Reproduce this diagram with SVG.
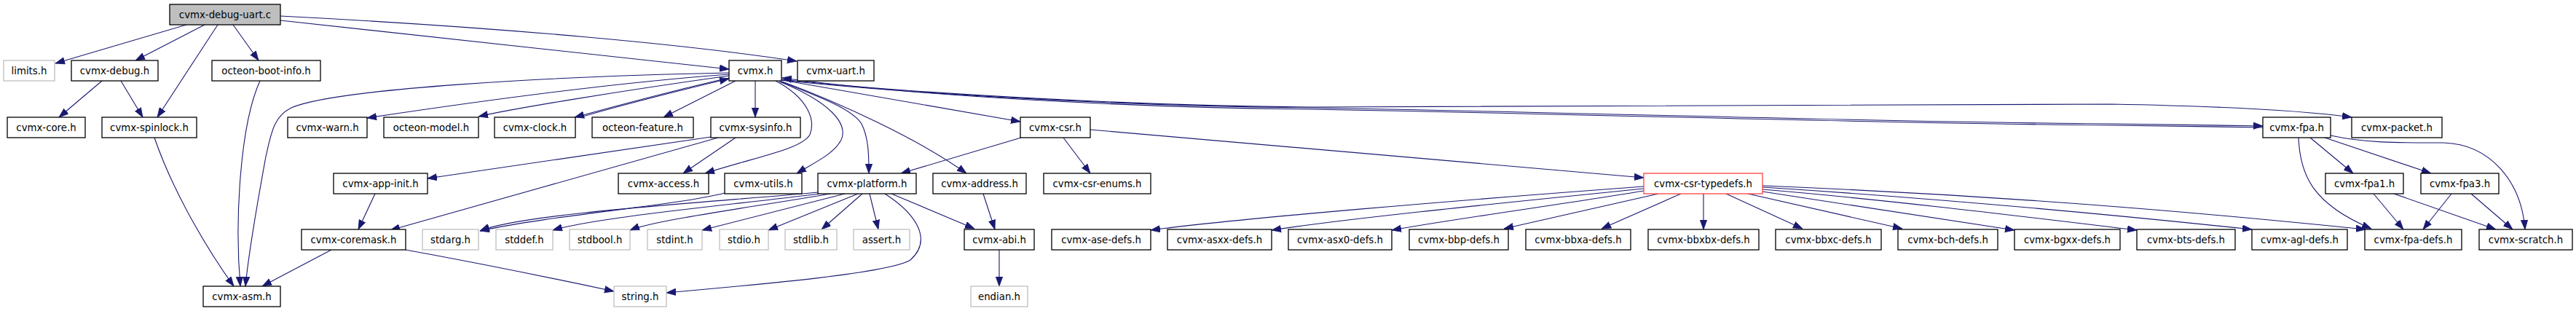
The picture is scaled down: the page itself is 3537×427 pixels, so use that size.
<svg xmlns="http://www.w3.org/2000/svg" width="3537" height="427" viewBox="0 0 3537 427">
<style>
.n rect{fill:#ffffff;stroke:#000000;stroke-width:1.3}
.n.g rect{stroke:#bfbfbf}
.n.r rect{stroke:#ff4040}
.n.m rect{fill:#bfbfbf}
.n text{font-family:"DejaVu Sans","Liberation Sans",sans-serif;font-size:13.3px;fill:#000000;text-anchor:middle}
#edges path{fill:none;stroke:#191970;stroke-width:1.1;marker-end:url(#ah)}
</style>
<defs>
<marker id="ah" markerUnits="userSpaceOnUse" markerWidth="14" markerHeight="11" refX="13" refY="5" orient="auto">
<path d="M0,0.3 L13,5 L0,9.7 z" fill="#191970" stroke="#191970" stroke-width="0.8"/>
</marker>
</defs>
<rect x="0" y="0" width="3537" height="427" fill="#ffffff"/>
<g id="edges">
<path d="M256,34 L76,87"/>
<path d="M281,34 L186,83"/>
<path d="M299,34 L216,161"/>
<path d="M320,34 L355,83"/>
<path d="M385,28 L1001,95"/>
<path d="M385,22 C700,38 950,62 1094,84"/>
<path d="M140,111 L81,161"/>
<path d="M166,111 L196,161"/>
<path d="M212,189 C240,270 290,350 321,393"/>
<path d="M357,111 C330,170 322,300 330,393"/>
<path d="M1001,100 C750,105 460,122 400,148 C375,160 372,185 365,215 C355,270 342,340 337,393"/>
<path d="M1001,102 C850,113 650,140 504,162"/>
<path d="M1001,104 C850,125 700,150 657,160"/>
<path d="M1001,107 C920,125 830,150 789,161"/>
<path d="M797,161 C850,145 950,120 1001,108"/>
<path d="M1010,111 L911,161"/>
<path d="M1037,111 L1037,161"/>
<path d="M1065,111 C1110,135 1120,165 1112,185 C1100,205 1040,215 968,238"/>
<path d="M1070,112 C1140,140 1165,170 1155,192 C1145,212 1115,225 1094,238"/>
<path d="M1072,112 C1130,135 1170,150 1183,170 C1193,190 1193,215 1193,238"/>
<path d="M1074,112 C1150,140 1260,190 1327,238"/>
<path d="M1074,110 L1401,167"/>
<path d="M1073,109 C1250,128 1550,145 1800,147 L2900,143 C3060,146 3170,153 3229,161"/>
<path d="M1073,110 C1250,129 1550,146 1800,148 C2200,155 2600,168 2900,170 C3000,171 3060,172 3107,173"/>
<path d="M3107,175 C3060,174 3000,173 2900,172 C2600,170 2200,157 1800,150 C1550,148 1250,131 1074,107"/>
<path d="M1010,189 L938,238"/>
<path d="M976,188 L587,245"/>
<path d="M986,189 L536,316"/>
<path d="M515,266 L492,315"/>
<path d="M455,343 L360,393"/>
<path d="M557,343 C650,360 750,380 843,400"/>
<path d="M995,265 C930,282 760,295 659,317"/>
<path d="M1123,264 C1000,276 720,292 659,317"/>
<path d="M1125,266 C1000,282 820,298 759,316"/>
<path d="M1140,266 C1030,285 900,302 865,316"/>
<path d="M1160,266 L964,316"/>
<path d="M1178,266 L1055,316"/>
<path d="M1184,266 L1128,315"/>
<path d="M1194,266 L1206,315"/>
<path d="M1224,266 L1338,314"/>
<path d="M1215,266 C1260,295 1280,330 1250,357 C1220,375 1050,390 915,402"/>
<path d="M1402,189 L1237,238"/>
<path d="M1460,189 L1497,238"/>
<path d="M1497,178 L2257,244"/>
<path d="M1350,266 L1366,315"/>
<path d="M1372,343 L1372,393"/>
<path d="M2257,256 C2000,275 1700,300 1580,316"/>
<path d="M2257,259 C2050,280 1850,300 1746,316"/>
<path d="M2257,262 C2150,280 2000,300 1911,316"/>
<path d="M2277,266 L2065,314"/>
<path d="M2308,266 L2199,314"/>
<path d="M2339,266 L2339,315"/>
<path d="M2370,266 L2475,314"/>
<path d="M2400,266 L2612,314"/>
<path d="M2420,263 L2766,316"/>
<path d="M2420,260 C2600,275 2800,300 2934,316"/>
<path d="M2420,257 C2700,275 2950,300 3092,315"/>
<path d="M2420,255 C2800,270 3100,300 3248,315"/>
<path d="M3156,189 C3158,240 3175,280 3256,314"/>
<path d="M3172,189 L3231,238"/>
<path d="M3192,189 L3338,238"/>
<path d="M3200,186 C3250,197 3300,196 3355,196 C3420,198 3462,250 3467,315"/>
<path d="M3259,266 L3300,315"/>
<path d="M3287,266 L3427,315"/>
<path d="M3366,266 L3327,315"/>
<path d="M3393,266 L3450,315"/>
</g>
<g id="n-debug-uart-c" class="n m"><rect x="233" y="6" width="152" height="28"/><text x="309" y="25">cvmx-debug-uart.c</text></g>
<g id="n-limits" class="n g"><rect x="5" y="83" width="70" height="28"/><text x="40" y="102">limits.h</text></g>
<g id="n-cvmx-debug" class="n"><rect x="98" y="83" width="119" height="28"/><text x="157.5" y="102">cvmx-debug.h</text></g>
<g id="n-octeon-boot-info" class="n"><rect x="291" y="83" width="149" height="28"/><text x="365.5" y="102">octeon-boot-info.h</text></g>
<g id="n-cvmx" class="n"><rect x="1001" y="83" width="72" height="28"/><text x="1037" y="102">cvmx.h</text></g>
<g id="n-cvmx-uart" class="n"><rect x="1095" y="83" width="105" height="28"/><text x="1147.5" y="102">cvmx-uart.h</text></g>
<g id="n-cvmx-core" class="n"><rect x="10" y="161" width="107" height="28"/><text x="63.5" y="180">cvmx-core.h</text></g>
<g id="n-cvmx-spinlock" class="n"><rect x="140" y="161" width="130" height="28"/><text x="205" y="180">cvmx-spinlock.h</text></g>
<g id="n-cvmx-warn" class="n"><rect x="395" y="161" width="109" height="28"/><text x="449.5" y="180">cvmx-warn.h</text></g>
<g id="n-octeon-model" class="n"><rect x="527" y="161" width="130" height="28"/><text x="592" y="180">octeon-model.h</text></g>
<g id="n-cvmx-clock" class="n"><rect x="679" y="161" width="111" height="28"/><text x="734.5" y="180">cvmx-clock.h</text></g>
<g id="n-octeon-feature" class="n"><rect x="813" y="161" width="139" height="28"/><text x="882.5" y="180">octeon-feature.h</text></g>
<g id="n-cvmx-sysinfo" class="n"><rect x="976" y="161" width="123" height="28"/><text x="1037.5" y="180">cvmx-sysinfo.h</text></g>
<g id="n-cvmx-csr" class="n"><rect x="1401" y="161" width="96" height="28"/><text x="1449" y="180">cvmx-csr.h</text></g>
<g id="n-cvmx-fpa" class="n"><rect x="3107" y="161" width="93" height="28"/><text x="3153.5" y="180">cvmx-fpa.h</text></g>
<g id="n-cvmx-packet" class="n"><rect x="3229" y="161" width="124" height="28"/><text x="3291" y="180">cvmx-packet.h</text></g>
<g id="n-cvmx-app-init" class="n"><rect x="458" y="238" width="129" height="28"/><text x="522.5" y="257">cvmx-app-init.h</text></g>
<g id="n-cvmx-access" class="n"><rect x="849" y="238" width="124" height="28"/><text x="911" y="257">cvmx-access.h</text></g>
<g id="n-cvmx-utils" class="n"><rect x="995" y="238" width="106" height="28"/><text x="1048" y="257">cvmx-utils.h</text></g>
<g id="n-cvmx-platform" class="n"><rect x="1123" y="238" width="135" height="28"/><text x="1190.5" y="257">cvmx-platform.h</text></g>
<g id="n-cvmx-address" class="n"><rect x="1281" y="238" width="128" height="28"/><text x="1345" y="257">cvmx-address.h</text></g>
<g id="n-cvmx-csr-enums" class="n"><rect x="1433" y="238" width="147" height="28"/><text x="1506.5" y="257">cvmx-csr-enums.h</text></g>
<g id="n-cvmx-csr-typedefs" class="n r"><rect x="2257" y="238" width="163" height="28"/><text x="2338.5" y="257">cvmx-csr-typedefs.h</text></g>
<g id="n-cvmx-fpa1" class="n"><rect x="3193" y="238" width="107" height="28"/><text x="3246.5" y="257">cvmx-fpa1.h</text></g>
<g id="n-cvmx-fpa3" class="n"><rect x="3324" y="238" width="107" height="28"/><text x="3377.5" y="257">cvmx-fpa3.h</text></g>
<g id="n-cvmx-coremask" class="n"><rect x="414" y="315" width="143" height="28"/><text x="485.5" y="334">cvmx-coremask.h</text></g>
<g id="n-stdarg" class="n g"><rect x="580" y="315" width="77" height="28"/><text x="618.5" y="334">stdarg.h</text></g>
<g id="n-stddef" class="n g"><rect x="681" y="315" width="78" height="28"/><text x="720" y="334">stddef.h</text></g>
<g id="n-stdbool" class="n g"><rect x="782" y="315" width="83" height="28"/><text x="823.5" y="334">stdbool.h</text></g>
<g id="n-stdint" class="n g"><rect x="889" y="315" width="75" height="28"/><text x="926.5" y="334">stdint.h</text></g>
<g id="n-stdio" class="n g"><rect x="988" y="315" width="67" height="28"/><text x="1021.5" y="334">stdio.h</text></g>
<g id="n-stdlib" class="n g"><rect x="1078" y="315" width="71" height="28"/><text x="1113.5" y="334">stdlib.h</text></g>
<g id="n-assert" class="n g"><rect x="1172" y="315" width="77" height="28"/><text x="1210.5" y="334">assert.h</text></g>
<g id="n-cvmx-abi" class="n"><rect x="1324" y="315" width="96" height="28"/><text x="1372" y="334">cvmx-abi.h</text></g>
<g id="n-cvmx-ase-defs" class="n"><rect x="1444" y="315" width="136" height="28"/><text x="1512" y="334">cvmx-ase-defs.h</text></g>
<g id="n-cvmx-asxx-defs" class="n"><rect x="1603" y="315" width="143" height="28"/><text x="1674.5" y="334">cvmx-asxx-defs.h</text></g>
<g id="n-cvmx-asx0-defs" class="n"><rect x="1769" y="315" width="142" height="28"/><text x="1840" y="334">cvmx-asx0-defs.h</text></g>
<g id="n-cvmx-bbp-defs" class="n"><rect x="1935" y="315" width="136" height="28"/><text x="2003" y="334">cvmx-bbp-defs.h</text></g>
<g id="n-cvmx-bbxa-defs" class="n"><rect x="2095" y="315" width="144" height="28"/><text x="2167" y="334">cvmx-bbxa-defs.h</text></g>
<g id="n-cvmx-bbxbx-defs" class="n"><rect x="2263" y="315" width="152" height="28"/><text x="2339" y="334">cvmx-bbxbx-defs.h</text></g>
<g id="n-cvmx-bbxc-defs" class="n"><rect x="2438" y="315" width="145" height="28"/><text x="2510.5" y="334">cvmx-bbxc-defs.h</text></g>
<g id="n-cvmx-bch-defs" class="n"><rect x="2606" y="315" width="137" height="28"/><text x="2674.5" y="334">cvmx-bch-defs.h</text></g>
<g id="n-cvmx-bgxx-defs" class="n"><rect x="2766" y="315" width="145" height="28"/><text x="2838.5" y="334">cvmx-bgxx-defs.h</text></g>
<g id="n-cvmx-bts-defs" class="n"><rect x="2934" y="315" width="135" height="28"/><text x="3001.5" y="334">cvmx-bts-defs.h</text></g>
<g id="n-cvmx-agl-defs" class="n"><rect x="3092" y="315" width="131" height="28"/><text x="3157.5" y="334">cvmx-agl-defs.h</text></g>
<g id="n-cvmx-fpa-defs" class="n"><rect x="3247" y="315" width="133" height="28"/><text x="3313.5" y="334">cvmx-fpa-defs.h</text></g>
<g id="n-cvmx-scratch" class="n"><rect x="3404" y="315" width="128" height="28"/><text x="3468" y="334">cvmx-scratch.h</text></g>
<g id="n-cvmx-asm" class="n"><rect x="279" y="393" width="106" height="28"/><text x="332" y="412">cvmx-asm.h</text></g>
<g id="n-string" class="n g"><rect x="843" y="393" width="72" height="28"/><text x="879" y="412">string.h</text></g>
<g id="n-endian" class="n g"><rect x="1333" y="393" width="78" height="28"/><text x="1372" y="412">endian.h</text></g>
</svg>
